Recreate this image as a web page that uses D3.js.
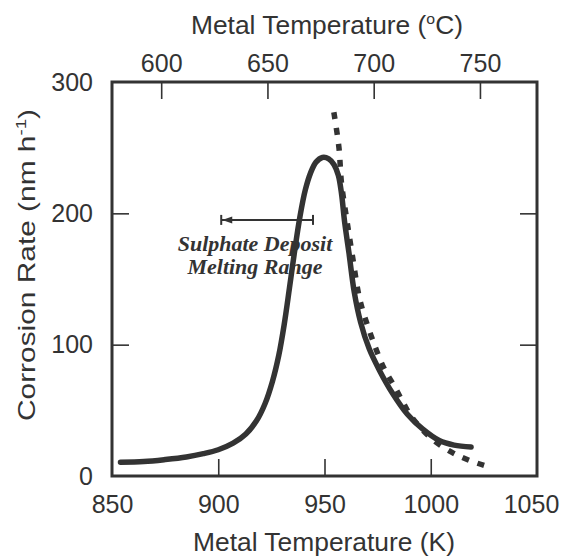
<!DOCTYPE html>
<html><head><meta charset="utf-8">
<script src="https://cdn.jsdelivr.net/npm/d3@7"></script>
<style>body{margin:0;background:#fff}svg{display:block}</style>
</head><body>
<script>
// ---- data ----
const kelvinTicks = [850, 900, 950, 1000, 1050];
const celsiusTicks = [600, 650, 700, 750];
const rateTicks = [0, 100, 200, 300];
// measured corrosion rate (solid line)
const measuredK    = [854, 865, 875, 885, 893, 900, 907, 913, 918, 922, 925.5, 928.5, 931, 933.5, 936, 938.5, 941, 943.5, 946, 949, 952, 954.5, 956.5, 958, 959.5, 961.5, 964, 967, 971, 976, 982, 989, 996, 1004, 1011, 1019];
const measuredRate = [10.5, 11, 12.5, 14.5, 17, 20, 25, 32, 42, 55, 72, 92, 115, 143, 172, 198, 218, 231, 239, 242.5, 241.5, 237, 229, 215, 193, 170, 140, 117, 97, 80, 63, 47, 36, 27, 23.5, 22];
// extrapolated / model curve (dashed line)
const modelK    = [954.4, 956.8, 958, 960.5, 963, 966, 968, 973, 978, 983, 987, 991, 1000, 1010, 1018, 1026];
const modelRate = [277, 250, 223, 195, 169, 139, 126, 102, 82, 68, 56, 45, 29, 18, 12, 7.6];
// melting range annotation
const meltRange = [901.4, 944.6];
const meltRate = 195;
const annotLines = ["Sulphate Deposit", "Melting Range"];

const W = 562, H = 559;
const m = {left: 112, right: 537, top: 82, bottom: 476};
const ink = "#333333";

const svg = d3.select("body").append("svg").attr("width", W).attr("height", H);

const x = d3.scaleLinear().domain([850, 1050]).range([m.left, m.right]);
const xC = d3.scaleLinear().domain([850 - 273.15, 1050 - 273.15]).range([m.left, m.right]);
const y = d3.scaleLinear().domain([0, 300]).range([m.bottom, m.top]);

const tickLen = 17;
const fontAxis = "'Liberation Sans', Arial, sans-serif";
const fmt = d3.format("d");

const gB = svg.append("g").attr("transform", `translate(0,${m.bottom})`)
  .call(d3.axisBottom(x).tickValues(kelvinTicks).tickFormat(fmt).tickSizeInner(-tickLen).tickSizeOuter(0).tickPadding(19));
const gT = svg.append("g").attr("transform", `translate(0,${m.top})`)
  .call(d3.axisTop(xC).tickValues(celsiusTicks).tickFormat(fmt).tickSizeInner(-tickLen).tickSizeOuter(0).tickPadding(10));
const gL = svg.append("g").attr("transform", `translate(${m.left},0)`)
  .call(d3.axisLeft(y).tickValues(rateTicks).tickFormat(fmt).tickSizeInner(-tickLen).tickSizeOuter(0).tickPadding(19));
const gR = svg.append("g").attr("transform", `translate(${m.right},0)`)
  .call(d3.axisRight(y).tickValues(rateTicks).tickSizeInner(-tickLen).tickSizeOuter(0).tickFormat(""));

[gB, gT, gL, gR].forEach(g => {
  g.select(".domain").remove();
  g.selectAll(".tick line").attr("stroke", ink).attr("stroke-width", 1.6);
  g.selectAll(".tick text").attr("fill", ink).style("font-family", fontAxis).style("font-size", "25px");
});
gB.selectAll(".tick").filter(d => d === 850 || d === 1050).select("line").remove();
gB.selectAll(".tick").filter(d => d === 1050).select("text").attr("x", -6);
gL.selectAll(".tick").filter(d => d === 0 || d === 300).select("line").remove();
gR.selectAll(".tick").filter(d => d === 0 || d === 300).select("line").remove();

// frame
svg.append("rect").attr("x", m.left).attr("y", m.top)
  .attr("width", m.right - m.left).attr("height", m.bottom - m.top)
  .attr("fill", "none").attr("stroke", ink).attr("stroke-width", 3);

// axis titles
svg.append("text").attr("x", 324).attr("y", 551).attr("text-anchor", "middle")
  .attr("fill", ink).style("font-family", fontAxis).style("font-size", "25px")
  .attr("textLength", 262).attr("lengthAdjust", "spacingAndGlyphs")
  .text("Metal Temperature (K)");
const tt = svg.append("text").attr("x", 327).attr("y", 34).attr("text-anchor", "middle")
  .attr("fill", ink).style("font-family", fontAxis).style("font-size", "25px")
  .attr("textLength", 272).attr("lengthAdjust", "spacingAndGlyphs");
tt.append("tspan").text("Metal Temperature (");
tt.append("tspan").attr("dy", -10).style("font-size", "15px").text("o");
tt.append("tspan").attr("dy", 10).text("C)");
const yt = svg.append("text").attr("transform", "translate(35,265) rotate(-90)").attr("text-anchor", "middle")
  .attr("fill", ink).style("font-family", fontAxis).style("font-size", "24px")
  .attr("textLength", 312).attr("lengthAdjust", "spacingAndGlyphs");
yt.append("tspan").text("Corrosion Rate (nm h");
yt.append("tspan").attr("dy", -9).style("font-size", "15px").text("-1");
yt.append("tspan").attr("dy", 9).text(")");

// curves
const line = d3.line().x(d => x(d[0])).y(d => y(d[1])).curve(d3.curveCatmullRom.alpha(0.5));
svg.append("path").datum(measuredK.map((k, i) => [k, measuredRate[i]]))
  .attr("d", line).attr("fill", "none").attr("stroke", ink).attr("stroke-width", 5.5)
  .attr("stroke-linecap", "round").attr("stroke-linejoin", "round");
svg.append("path").datum(modelK.map((k, i) => [k, modelRate[i]]))
  .attr("d", line).attr("fill", "none").attr("stroke", ink).attr("stroke-width", 5.5)
  .attr("stroke-dasharray", "7,9");

// melting range bar
const by = y(meltRate);
const x0 = x(meltRange[0]), x1 = x(meltRange[1]);
svg.append("line").attr("x1", x0).attr("x2", x1).attr("y1", by).attr("y2", by)
  .attr("stroke", ink).attr("stroke-width", 2);
[x0, x1].forEach(xx => svg.append("line").attr("x1", xx).attr("x2", xx).attr("y1", by - 5).attr("y2", by + 5)
  .attr("stroke", ink).attr("stroke-width", 2));
svg.append("path").attr("d", `M${x0 + 1},${by} L${x0 + 11},${by - 3.5} L${x0 + 11},${by + 3.5} Z`).attr("fill", ink);

const ann = svg.append("text").attr("text-anchor", "middle").attr("fill", ink)
  .style("font-family", "'Liberation Serif', 'Times New Roman', serif")
  .style("font-style", "italic").style("font-weight", "bold").style("font-size", "22px");
annotLines.forEach((t, i) => ann.append("tspan").attr("x", 255).attr("y", 251 + i * 23).text(t));
</script>
</body></html>
